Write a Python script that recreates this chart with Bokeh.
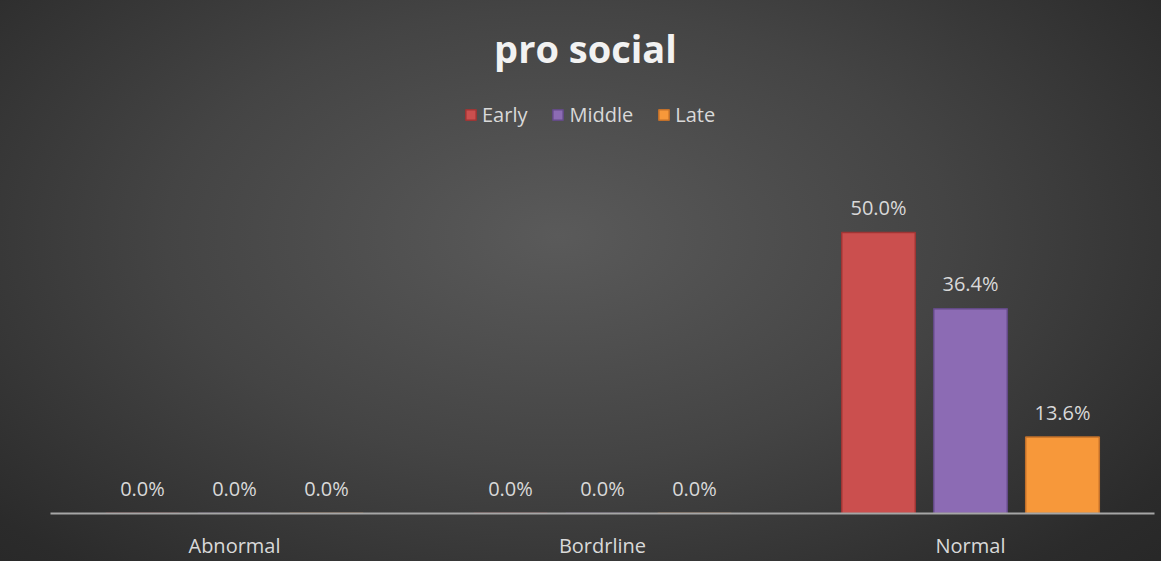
from bokeh.plotting import figure
from bokeh.models import (ColumnDataSource, FactorRange, Range1d, LabelSet, Label,
                          Legend, LegendItem)
from bokeh.transform import dodge
from bokeh.core.properties import value
from bokeh.embed import file_html
from bokeh.resources import INLINE

categories = ["Abnormal", "Bordrline", "Normal"]
series = ["Early", "Middle", "Late"]
early = [0.0, 0.0, 0.500]
middle = [0.0, 0.0, 0.364]
late = [0.0, 0.0, 0.136]

colors = ["#cb4f4e", "#8c6bb4", "#f7983a"]
edges = ["#9e3534", "#634a86", "#c2702a"]
offsets = [-0.25, 0.0, 0.25]

FONT = "Open Sans"
TXT = "#d9d9d9"

p = figure(x_range=FactorRange(*categories, range_padding=0),
           y_range=Range1d(0, 0.9),
           width=1161, height=561,
           output_backend="svg", toolbar_location=None,
           min_border_left=50, min_border_right=7,
           min_border_top=7, min_border_bottom=46)
p.background_fill_alpha = 0
p.border_fill_alpha = 0
p.outline_line_color = None
p.styles = {"background": "radial-gradient(ellipse 75% 90% at 48% 42%, #5a5a5a 0%, #444444 45%, #2b2b2b 85%, #262626 100%)"}

p.xgrid.visible = False
p.ygrid.visible = False
p.yaxis.visible = False
p.xaxis.axis_line_color = "#a6a6a6"
p.xaxis.axis_line_width = 2
p.xaxis.major_tick_line_color = None
p.xaxis.minor_tick_line_color = None
p.xaxis.major_tick_out = 0
p.xaxis.major_label_text_color = TXT
p.xaxis.major_label_text_font = FONT
p.xaxis.major_label_text_font_size = "20px"
p.xaxis.major_label_standoff = 18

values = [early, middle, late]
items = []
for name, vals, c, e, off in zip(series, values, colors, edges, offsets):
    src = ColumnDataSource(dict(cat=categories, val=vals,
                                lab=[f"{v*100:.1f}%" for v in vals]))
    r = p.vbar(x=dodge("cat", off, range=p.x_range), top="val", width=0.2,
               source=src, fill_color=c, line_color=e, line_width=1.5)
    items.append(LegendItem(label=name, renderers=[r]))
    ls = LabelSet(x=dodge("cat", off, range=p.x_range), y="val", text="lab",
                  source=src, text_align="center", text_baseline="middle",
                  y_offset=25, text_color=TXT, text_font=value(FONT),
                  text_font_size="20px")
    p.add_layout(ls)

legend = Legend(items=items, orientation="horizontal", location=(414, 385),
                padding=0, margin=0, spacing=24, label_standoff=5,
                glyph_width=13, glyph_height=13,
                label_text_color=TXT, label_text_font=FONT,
                label_text_font_size="20px",
                border_line_color=None, background_fill_alpha=0)
p.add_layout(legend, "center")

title = Label(x=535, y=466, x_units="screen", y_units="screen",
              text="pro social", text_align="center", text_baseline="middle",
              text_color="#f2f2f2", text_font=FONT, text_font_style="bold",
              text_font_size="38px")
p.add_layout(title)

open("out.html", "w").write(file_html(p, INLINE))
